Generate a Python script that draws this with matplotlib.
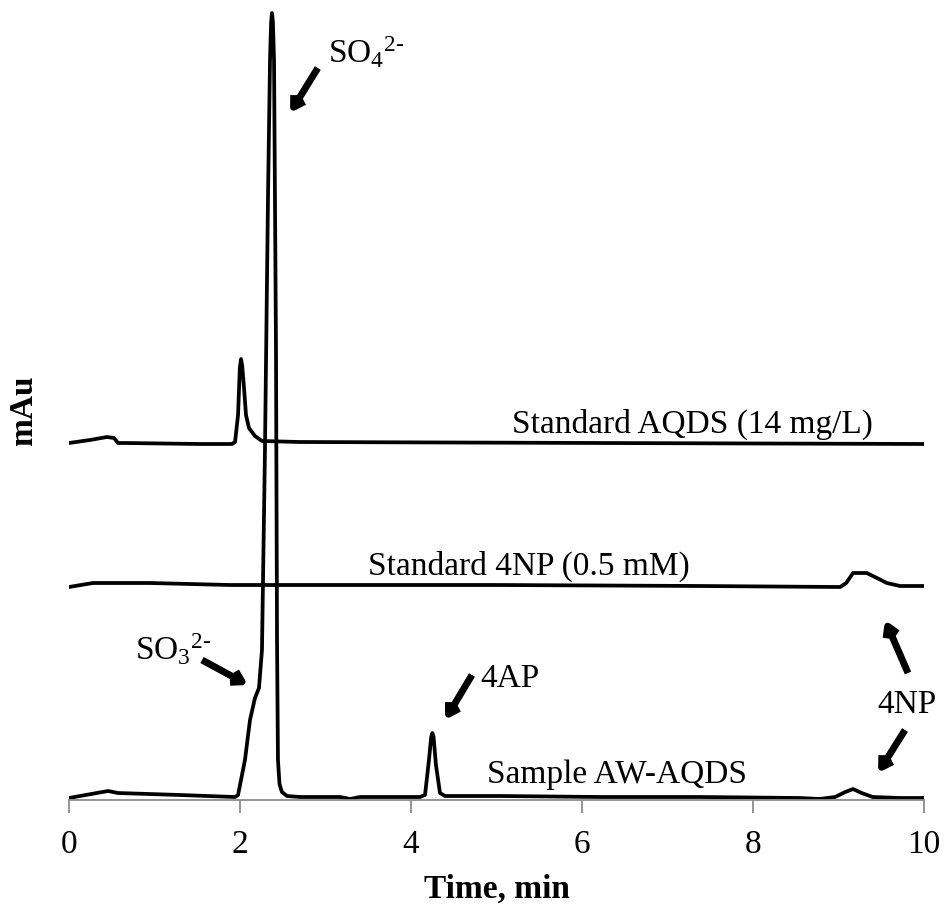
import matplotlib
matplotlib.use("Agg")
import matplotlib.pyplot as plt
import numpy as np

plt.rcParams['font.family'] = ['Liberation Serif', 'DejaVu Serif']
plt.rcParams['mathtext.fontset'] = 'custom'
plt.rcParams['mathtext.rm'] = 'Liberation Serif'
plt.rcParams['mathtext.it'] = 'Liberation Serif:italic'
plt.rcParams['mathtext.bf'] = 'Liberation Serif:bold'

# ---------------- data (time in min, signal in arbitrary mAu units, offsets included) -------------
sample_t = [0.00, 0.456, 0.573, 1.298, 1.942, 1.977, 2.058, 2.117, 2.175, 2.222, 2.257, 2.292,
            2.327, 2.351, 2.364, 2.374, 2.385, 2.398, 2.421, 2.433, 2.444, 2.462, 2.490, 2.550,
            2.702, 3.17, 3.29, 3.40, 4.105, 4.164, 4.21, 4.236, 4.250, 4.264, 4.292, 4.339,
            4.398, 5.04, 6.21, 7.38, 8.55, 8.78, 8.96, 9.08, 9.17, 9.27, 9.40, 9.72, 10.0]
sample_y = [2, 9, 7, 5, 3, 5, 40, 80, 102, 112, 150, 350,
            600, 740, 778, 787, 778, 740, 450, 160, 40, 16, 8, 4,
            3, 3, 1, 3, 3, 5, 40, 63, 67, 63, 35, 7,
            4, 4, 3, 3, 2, 1, 3, 8, 11, 7, 3, 2, 2]

np4_t = [0.00, 0.28, 0.947, 1.883, 5.04, 7.38, 9.02, 9.09, 9.17, 9.33, 9.45, 9.565, 9.72, 10.0]
np4_y = [213, 217, 217, 215, 215, 214, 213, 217, 227, 227, 222, 217, 214, 214]

aqds_t = [0.00, 0.246, 0.444, 0.526, 0.573, 0.655, 1.532, 1.906, 1.942, 1.977, 1.998, 2.012,
          2.026, 2.047, 2.070, 2.105, 2.175, 2.257, 2.70, 6.21, 10.0]
aqds_y = [357, 360, 363, 362, 357, 357, 356, 356, 358, 385, 432, 441,
          434, 412, 385, 372, 364, 359, 358, 357, 356]

xticks = [0, 2, 4, 6, 8, 10]

trace_labels = ["Standard AQDS (14 mg/L)", "Standard 4NP (0.5 mM)", "Sample AW-AQDS"]
trace_label_pos = [(5.18, 367), (3.50, 225), (4.89, 17)]

peak_labels = [r'$\mathregular{SO_4{}^{2\text{-}}}$', r'$\mathregular{SO_3{}^{2\text{-}}}$', '4AP', '4NP']
peak_label_pos = [(3.03, 737), (0.772, 140), (4.807, 113), (9.45, 87)]
# arrows: (tail, head)
arrows = [((2.91, 732), (2.585, 687)),
          ((1.556, 140), (2.094, 115)),
          ((4.713, 125), (4.398, 80)),
          ((9.813, 127), (9.544, 180)),
          ((9.778, 70), (9.462, 27))]

# ---------------- figure ----------------
fig = plt.figure(figsize=(9.46, 9.09), dpi=100)
ax = fig.add_axes([69/946, 1 - 800/909, (924 - 69)/946, 790/909])

lw = 2.7
for t, y in [(aqds_t, aqds_y), (np4_t, np4_y), (sample_t, sample_y)]:
    ax.plot(t, y, color='black', lw=lw, solid_joinstyle='round', solid_capstyle='round')

fs = 24
for txt, (x, y) in zip(trace_labels, trace_label_pos):
    ax.text(x, y, txt, fontsize=fs, ha='left', va='baseline')
for txt, (x, y) in zip(peak_labels, peak_label_pos):
    ax.text(x, y, txt, fontsize=fs, ha='left', va='baseline')
for tail, head in arrows:
    ax.annotate('', xy=head, xytext=tail,
                arrowprops=dict(arrowstyle='->,head_length=0.75,head_width=0.45',
                                lw=5, color='black', shrinkA=0, shrinkB=0,
                                joinstyle='round', capstyle='butt'))

ax.set_xlim(0, 10)
ax.set_ylim(0, 790)
ax.set_xticks(xticks)
ax.set_xticklabels([str(v) for v in xticks], fontsize=fs)
ax.set_yticks([])
for s in ['top', 'right', 'left']:
    ax.spines[s].set_visible(False)
ax.spines['bottom'].set_color('#8c8c8c')
ax.spines['bottom'].set_linewidth(1.3)
ax.tick_params(axis='x', direction='out', length=9.5, width=1.3, color='#8c8c8c', pad=12)
ax.set_xlabel('Time, min', fontsize=fs, fontweight='bold', labelpad=10)
fig.text(24/946, 1 - 411/909, 'mAu', fontsize=fs, fontweight='bold',
         rotation=90, ha='center', va='center')

fig.savefig('out.png', dpi=100)
